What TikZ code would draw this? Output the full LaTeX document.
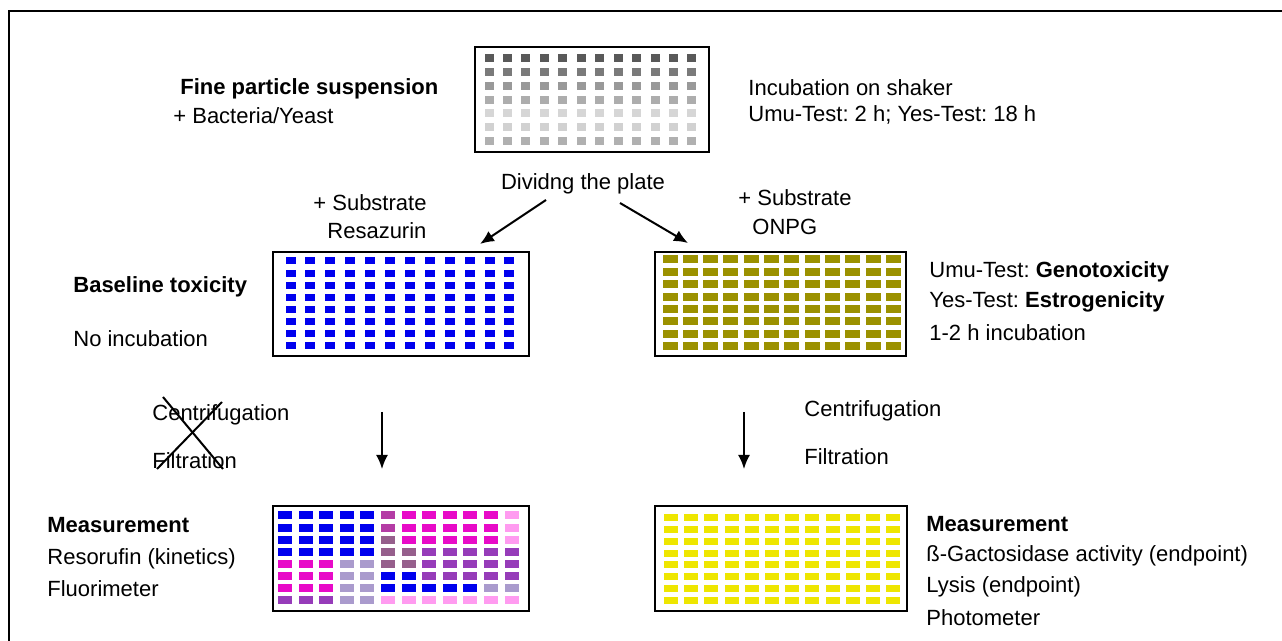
\documentclass[tikz,border=0pt]{standalone}
\usepackage{fontspec}
\setmainfont{Liberation Sans}
\usetikzlibrary{arrows.meta}

\definecolor{wblue}{RGB}{0,0,238}
\definecolor{wolive}{RGB}{155,145,0}
\definecolor{wyellow}{RGB}{238,230,0}
\definecolor{wmag}{RGB}{232,10,200}
\definecolor{wmute}{RGB}{180,60,165}
\definecolor{wmauve}{RGB}{150,95,140}
\definecolor{wviol}{RGB}{150,60,185}
\definecolor{wgrey}{RGB}{170,155,205}
\definecolor{wpink}{RGB}{255,155,240}

\tikzset{
	txt/.style={anchor=west, inner sep=0pt, font=\fontsize{11}{13}\selectfont},
	txtb/.style={txt, font=\fontsize{11}{13}\selectfont\bfseries},
	plate/.style={line width=1pt},
	flow/.style={line width=1pt, -{Latex[length=7pt,width=6pt]}}
}

\begin{document}
\begin{tikzpicture}[x=0.5pt, y=-0.5pt]
			%%%%% START %%%%%
			\useasboundingbox (0,0) rectangle (1282,641);
			\draw[line width=1.2pt] (1282,11) -- (9,11) -- (9,641);
			
			% shaker plate
			\foreach [count=\r] \g in {65,52,40,32,16,18,31}
				\foreach \c in {1,...,12}
					\fill[black!\g] ({489+18.45*(\c-1)-4.5}, {58.5+13.75*(\r-1)-4}) rectangle ++(9,8);
			\draw[plate] (475,47) rectangle (709,152);
			
			\node[txtb] (susp) at (180,89) {Fine particle suspension};
			\node[txt] (bact) at (173,116) {+ Bacteria/Yeast};
			\node[txt] (incub) at (748,88) {Incubation on shaker};
			\node[txt] (times) at (748,115) {Umu-Test:\ 2 h; Yes-Test:\ 18 h};
			
			\node[txt, anchor=center] (divide) at (583,184) {Dividng the plate};
			\coordinate (dl) at (546,200);
			\coordinate (dr) at (620,203);
			\coordinate (pl) at (480,244);
			\coordinate (pr) at (688,243);
			\draw[flow] (dl) -- (pl);
			\draw[flow] (dr) -- (pr);
			
			\node[txt] (subL) at (313,203) {+ Substrate};
			\node[txt] (resaz) at (327,231) {Resazurin};
			\node[txt] (subR) at (738,198) {+ Substrate};
			\node[txt] (onpg) at (752,227) {ONPG};
			
			% resazurin plate
			\foreach \r in {1,...,8}
				\foreach \c in {1,...,12}
					\fill[wblue] ({290.5+19.9*(\c-1)-5}, {261+12.07*(\r-1)-3.5}) rectangle ++(10,7);
			\draw[plate] (273,252) rectangle (529,356);
			
			% ONPG plate
			\foreach \r in {1,...,8}
				\foreach \c in {1,...,12}
					\fill[wolive] ({670+20.3*(\c-1)-7.5}, {259.5+12.36*(\r-1)-4}) rectangle ++(15,8);
			\draw[plate] (655,252) rectangle (906,356);
			
			\node[txtb] (basetox) at (73,287) {Baseline toxicity};
			\node[txt] (noinc) at (73,339) {No incubation};
			\node[txt] (genotox) at (929,272) {Umu-Test:\ \textbf{Genotoxicity}};
			\node[txt] (estro) at (929,302) {Yes-Test:\ \textbf{Estrogenicity}};
			\node[txt] (incub2) at (929,333) {1-2 h incubation};
			
			% separation steps
			\node[txt] (centL) at (152,415) {Centrifugation};
			\node[txt] (filtL) at (152,461) {Filtration};
			\draw[line width=1pt] (163,397) -- (223,469);
			\draw[line width=1pt] (157,469) -- (222,402);
			\node[txt] (centR) at (804,411) {Centrifugation};
			\node[txt] (filtR) at (804,457) {Filtration};
			\coordinate (al) at (382,412);
			\coordinate (bl) at (382,469);
			\coordinate (ar) at (744,412);
			\coordinate (br) at (744,469);
			\draw[flow] (al) -- (bl);
			\draw[flow] (ar) -- (br);
			
			% fluorimeter plate
			\foreach [count=\r] \rowcols in {
					{wblue,wblue,wblue,wblue,wblue,wmute,wmag,wmag,wmag,wmag,wmag,wpink},
					{wblue,wblue,wblue,wblue,wblue,wmute,wmag,wmag,wmag,wmag,wmag,wpink},
					{wblue,wblue,wblue,wblue,wblue,wmauve,wmag,wmag,wmag,wmag,wmag,wpink},
					{wblue,wblue,wblue,wblue,wblue,wmauve,wmauve,wviol,wviol,wviol,wviol,wviol},
					{wmag,wmag,wmag,wgrey,wgrey,wmauve,wmauve,wviol,wviol,wviol,wviol,wviol},
					{wmag,wmag,wmag,wgrey,wgrey,wblue,wblue,wviol,wviol,wviol,wviol,wviol},
					{wmag,wmag,wmag,wgrey,wgrey,wblue,wblue,wblue,wblue,wblue,wgrey,wgrey},
					{wviol,wviol,wviol,wgrey,wgrey,wpink,wpink,wpink,wpink,wpink,wpink,wpink}}
				\foreach [count=\c] \col in \rowcols
					\fill[\col] ({285+20.6*(\c-1)-7}, {515.5+12.07*(\r-1)-4}) rectangle ++(14,8);
			\draw[plate] (273,506) rectangle (529,611);
			
			% photometer plate
			\foreach \r in {1,...,8}
				\foreach \c in {1,...,12}
					\fill[wyellow] ({671+20.2*(\c-1)-7}, {517.5+11.86*(\r-1)-3.5}) rectangle ++(14,7);
			\draw[plate] (655,506) rectangle (907,611);
			
			\node[txtb] (measL) at (47,525) {Measurement};
			\node[txt] (resoruf) at (47,559) {Resorufin (kinetics)};
			\node[txt] (fluor) at (47,589) {Fluorimeter};
			\node[txtb] (measR) at (926,524) {Measurement};
			\node[txt] (galact) at (926,556) {ß-Gactosidase activity (endpoint)};
			\node[txt] (lysis) at (926,587) {Lysis (endpoint)};
			\node[txt] (photo) at (926,618) {Photometer};
			%%%%% END %%%%%
\end{tikzpicture}
\end{document}
